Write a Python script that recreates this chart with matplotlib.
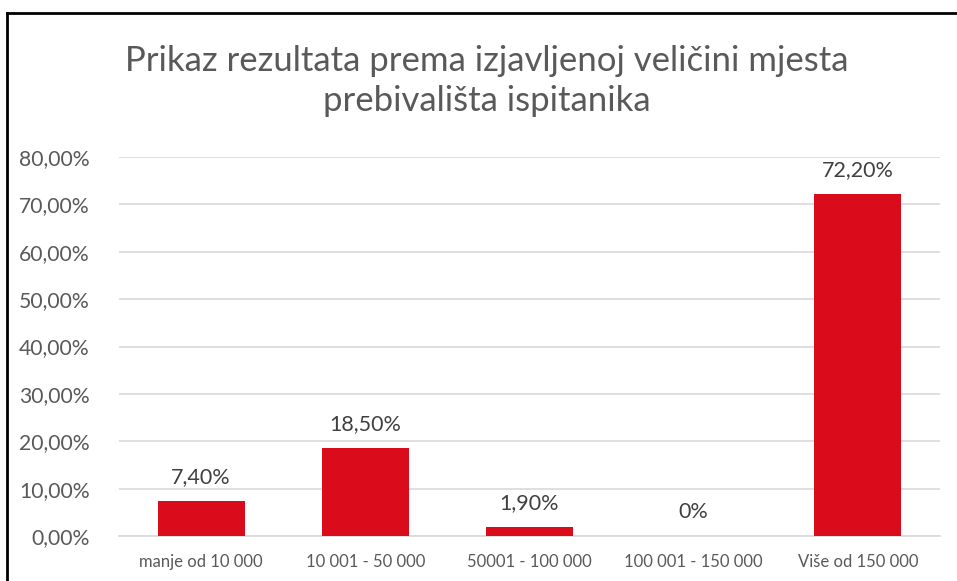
import matplotlib
matplotlib.use("Agg")
import matplotlib.pyplot as plt
from matplotlib.lines import Line2D

categories = ["manje od 10 000", "10 001 - 50 000", "50001 - 100 000", "100 001 - 150 000", "Više od 150 000"]
values = [7.40, 18.50, 1.90, 0.0, 72.20]
labels = ["7,40%", "18,50%", "1,90%", "0%", "72,20%"]
yticks = [0, 10, 20, 30, 40, 50, 60, 70, 80]
ytick_labels = ["0,00%", "10,00%", "20,00%", "30,00%", "40,00%", "50,00%", "60,00%", "70,00%", "80,00%"]
title = "Prikaz rezultata prema izjavljenoj veličini mjesta\nprebivališta ispitanika"

plt.rcParams['font.family'] = ['Lato', 'DejaVu Sans']
W, H = 957, 581
fig = plt.figure(figsize=(W/100, H/100), dpi=100)
fig.patch.set_facecolor('white')

left, right = 119, 940
bottom, top = 536, 157
ax = fig.add_axes([left/W, 1 - bottom/H, (right-left)/W, (bottom-top)/H])
x = list(range(len(categories)))
ax.bar(x, values, width=0.53, color='#DA0B1B', zorder=3)
ax.set_xlim(-0.5, len(categories)-0.5)
ax.set_ylim(0, 80)
ax.set_yticks(yticks)
ax.set_yticklabels(ytick_labels, fontsize=15.2, color='#595959')
ax.set_xticks(x)
ax.set_xticklabels(categories, fontsize=12, color='#595959')
ax.tick_params(axis='both', length=0)
ax.tick_params(axis='y', pad=21)
ax.tick_params(axis='x', pad=13)
ax.grid(axis='y', color='#D9D9D9', linewidth=1.2, zorder=0)
for s in ['top', 'right', 'left']:
    ax.spines[s].set_visible(False)
ax.spines['bottom'].set_color('#D9D9D9')
ax.spines['bottom'].set_linewidth(1.2)

for xi, v, lab in zip(x, values, labels):
    ax.annotate(lab, (xi, v), xytext=(0, 10), textcoords='offset points',
                ha='center', va='bottom', fontsize=15.5, color='#404040')

fig.text(487/W, 1 - 81/H, title, ha='center', va='center',
         fontsize=25, color='#595959', linespacing=1.3)

# border (left and top only visible)
fig.add_artist(Line2D([7.5/W, 7.5/W], [0, 1 - 12.5/H], transform=fig.transFigure, color='black', linewidth=2))
fig.add_artist(Line2D([7.5/W, 1], [1 - 12.5/H, 1 - 12.5/H], transform=fig.transFigure, color='black', linewidth=2))

fig.savefig("out.png", dpi=100, facecolor='white')
